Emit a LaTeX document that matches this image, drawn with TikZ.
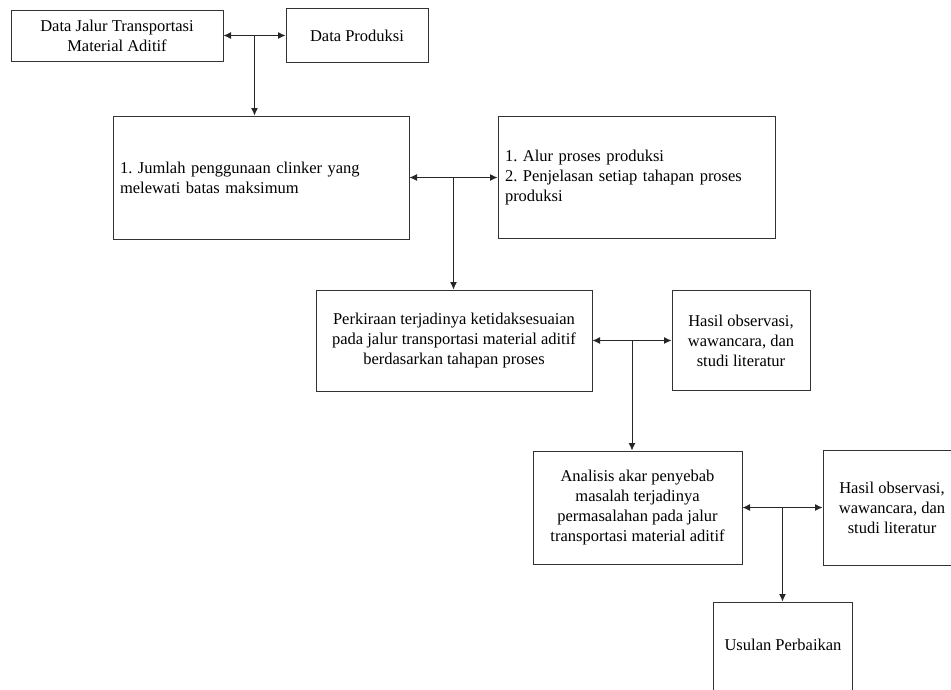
\documentclass[tikz,border=0pt]{standalone}
\usepackage{fontspec}
\setmainfont{Liberation Serif}
\frenchspacing
\usetikzlibrary{arrows.meta,calc}

\begin{document}
\begin{tikzpicture}[x=1pt, y=-1pt,
    box/.style={draw=black!80, line width=1pt, align=center, inner sep=0pt, font=\fontsize{16.5}{20}\selectfont},
    leftbox/.style={box, align=left, inner xsep=7pt},
    every edge/.style={draw=black!85, line width=1pt},
    >={Latex[length=7.5pt,width=7pt]}]
          \clip (0,0) rectangle (951,689);
          \node[box, minimum width=212pt, minimum height=51pt](0)  at (117,35.5)   {Data Jalur Transportasi\\Material Aditif};
          \node[box, minimum width=142pt, minimum height=54pt](1)  at (357,35.5)   {Data Produksi};
          \node[leftbox, text width=282pt, minimum height=123pt](2) at (261,177.5) {1. Jumlah penggunaan clinker yang\\melewati batas maksimum};
          \node[leftbox, text width=263pt, minimum height=122pt](3) at (636.5,177.5) {1. Alur proses produksi\\2. Penjelasan setiap tahapan proses\\produksi};
          \node[box, minimum width=276pt, minimum height=101pt](4) at (454,340.5)  {Perkiraan terjadinya ketidaksesuaian\\pada jalur transportasi material aditif\\berdasarkan tahapan proses};
          \node[box, minimum width=138pt, minimum height=100pt](5) at (741,340.5)  {Hasil observasi,\\wawancara, dan\\studi literatur};
          \node[box, minimum width=209pt, minimum height=113pt](6) at (637.5,507.5) {Analisis akar penyebab\\masalah terjadinya\\permasalahan pada jalur\\transportasi material aditif};
          \node[box, minimum width=138pt, minimum height=115pt](7) at (892,507.5)  {Hasil observasi,\\wawancara, dan\\studi literatur};
          \node[box, minimum width=139pt, minimum height=100pt, text depth=14pt](8) at (783,652) {Usulan Perbaikan};
          \coordinate (j0) at ($(0.east)!0.5!(1.west)$);
          \coordinate (j1) at ($(2.east)!0.5!(3.west)$);
          \coordinate (j2) at ($(4.east)!0.5!(5.west)$);
          \coordinate (j3) at ($(6.east)!0.5!(7.west)$);
          \path
            (0) edge[<->] (1)
            (j0) edge[->] (j0 |- 2.north)
            (2) edge[<->] (3)
            (j1) edge[->] (j1 |- 4.north)
            (4) edge[<->] (5)
            (j2) edge[->] (j2 |- 6.north)
            (6) edge[<->] (7)
            (j3) edge[->] (j3 |- 8.north)
            ;
        \end{tikzpicture}
\end{document}
